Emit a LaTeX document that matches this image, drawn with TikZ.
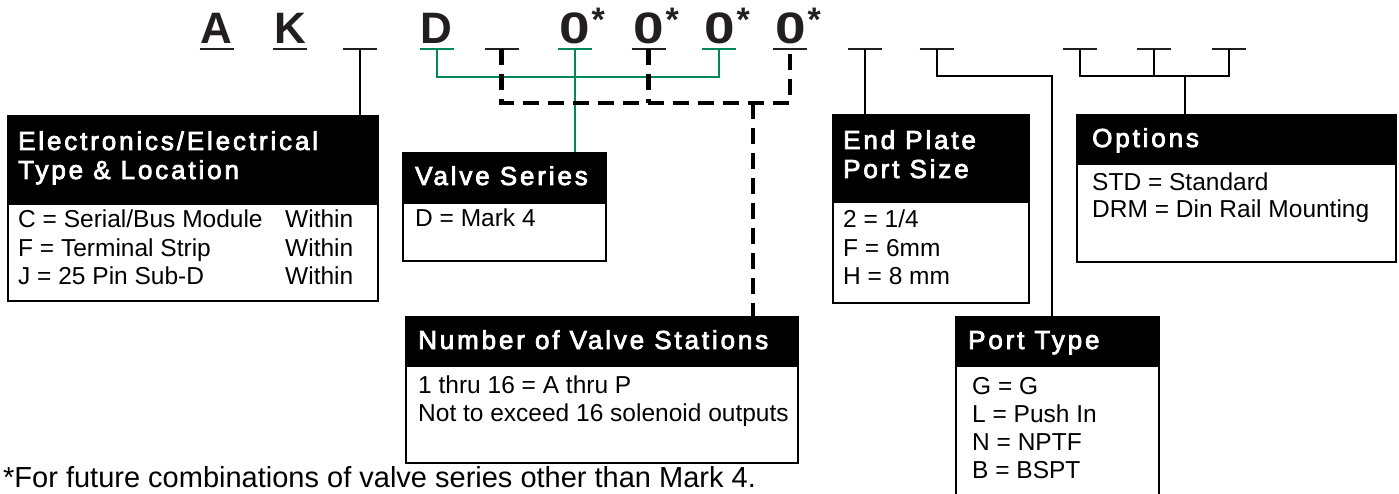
\documentclass[tikz,border=0pt]{standalone}
\usepackage{fontspec}
\setmainfont{Liberation Sans}
\newfontfamily\hdrfont[LetterSpace=11,FakeBold=3]{Liberation Sans}
\definecolor{grn}{RGB}{0,135,90}
\definecolor{ink}{RGB}{35,31,32}
\begin{document}
\begin{tikzpicture}[x=1pt,y=-1pt,
  ulb/.style={line width=2pt, ink},
  ulg/.style={line width=2pt, grn},
  thinln/.style={line width=2pt, black},
  gline/.style={line width=2pt, grn},
  dline/.style={line width=4.5pt, black, dash pattern=on 16pt off 9pt},
  boxbody/.style={draw=black, line width=1.6pt, fill=white, anchor=north west, inner sep=0},
  boxhead/.style={draw=black, fill=black, line width=1.6pt, anchor=north west, inner sep=0},
  htxt/.style={anchor=base west, inner sep=0, text=white, font=\hdrfont\fontsize{26}{28}\selectfont},
  btxt/.style={anchor=base west, inner sep=0, font=\fontsize{24.5}{28}\selectfont},
  letter/.style={anchor=base, inner sep=0, text=ink, font=\bfseries\fontsize{44}{44}\selectfont},
  digit/.style={anchor=base, inner sep=0, text=ink, font=\bfseries\fontsize{44}{44}\selectfont},
  star/.style={anchor=north west, inner sep=0, text=ink, font=\bfseries\fontsize{34}{34}\selectfont},
  foot/.style={anchor=base west, inner sep=0, font=\fontsize{29}{30}\selectfont},
]
\clip (0,0) rectangle (1399,494);
\fill[white] (0,0) rectangle (1399,494);

% slot underline coordinates
\coordinate (u1) at (216.5,49);
\coordinate (u2) at (290,49);
\coordinate (u3) at (360,49);
\coordinate (u4) at (436.5,49);
\coordinate (u5) at (501.5,49);
\coordinate (u6) at (575,49);
\coordinate (u7) at (648.5,49);
\coordinate (u8) at (719,49);
\coordinate (u9) at (790,49);
\coordinate (u10) at (865,49);
\coordinate (u11) at (936.5,49);
\coordinate (u12) at (1080,49);
\coordinate (u13) at (1153.5,49);
\coordinate (u14) at (1228.5,49);

% top letters
\node[letter] (lA) at (216.5,44) {A};
\node[letter] (lK) at (290,44) {K};
\node[letter] (lD) at (436.5,44) {D};
\node[digit] (z1) at (575,44) {\scalebox{1.25}[1]{0}};
\node[digit] (z2) at (649,44) {\scalebox{1.25}[1]{0}};
\node[digit] (z3) at (720,44) {\scalebox{1.25}[1]{0}};
\node[digit] (z4) at (791,44) {\scalebox{1.25}[1]{0}};
\node[star] (s1) at ([xshift=1pt]z1.east |- 0,8) {*};
\node[star] (s2) at ([xshift=1pt]z2.east |- 0,8) {*};
\node[star] (s3) at ([xshift=1pt]z3.east |- 0,8) {*};
\node[star] (s4) at ([xshift=1pt]z4.east |- 0,8) {*};

% underlines
\foreach \u in {u1,u2,u3,u5,u7,u9,u10,u11,u12,u13,u14}
  \draw[ulb] ([xshift=-17pt]\u) -- ([xshift=17pt]\u);
\foreach \u in {u4,u6,u8}
  \draw[ulg] ([xshift=-17pt]\u) -- ([xshift=17pt]\u);

% boxes
\node[boxbody, minimum width=370pt, minimum height=185pt] (b1) at (7,115) {};
\node[boxhead, minimum width=370pt, minimum height=88pt] (h1) at (7,115) {};
\node[boxbody, minimum width=203pt, minimum height=108pt] (b2) at (402,152) {};
\node[boxhead, minimum width=203pt, minimum height=50pt] (h2) at (402,152) {};
\node[boxbody, minimum width=196pt, minimum height=188pt] (b3) at (832,114) {};
\node[boxhead, minimum width=196pt, minimum height=87pt] (h3) at (832,114) {};
\node[boxbody, minimum width=319pt, minimum height=147pt] (b4) at (1076,114) {};
\node[boxhead, minimum width=319pt, minimum height=49pt] (h4) at (1076,114) {};
\node[boxbody, minimum width=392pt, minimum height=146pt] (b5) at (405,316) {};
\node[boxhead, minimum width=392pt, minimum height=49pt] (h5) at (405,316) {};
\node[boxbody, minimum width=203pt, minimum height=190pt] (b6) at (955,316) {};
\node[boxhead, minimum width=203pt, minimum height=49pt] (h6) at (955,316) {};

% junctions
\coordinate (jg) at (576,77);
\coordinate (jd) at (753,103);
\coordinate (jp) at (1052,76);
\coordinate (jo) at (1185,76);

% connectors
\draw[thinln] (u3) -- (u3 |- h1.north);
\draw[gline] (u4) -- (u4 |- jg) -- (u8 |- jg) -- (u8);
\draw[gline] (u6) -- (u6 |- h2.north);
\draw[dline] (u5) -- (u5 |- jd) -- (u9 |- jd) -- (u9);
\draw[dline] (u7) -- (u7 |- jd);
\draw[dline] (jd) -- (jd |- h5.north);
\draw[thinln] (u10) -- (u10 |- h3.north);
\draw[thinln] (u11) -- (u11 |- jp) -- (jp) -- (jp |- h6.north);
\draw[thinln] (u12) -- (u12 |- jo) -- (u14 |- jo) -- (u14);
\draw[thinln] (u13) -- (u13 |- jo);
\draw[thinln] (jo) -- (jo |- h4.north);

% box texts
\node[htxt] (t1a) at (18,150) {Electronics/Electrical};
\node[htxt] (t1b) at (18,179) {Type \& Location};
\node[btxt] (t1c) at (18,228) {C = Serial/Bus Module};
\node[btxt] (t1d) at (18,256) {F = Terminal Strip};
\node[btxt] (t1e) at (18,284) {J = 25 Pin Sub-D};
\node[btxt] (t1f) at (285,228) {Within};
\node[btxt] (t1g) at (285,256) {Within};
\node[btxt] (t1h) at (285,284) {Within};

\node[htxt] (t2a) at (415,185) {Valve Series};
\node[btxt] (t2b) at (415,227) {D = Mark 4};

\node[htxt] (t3a) at (843,149) {End Plate};
\node[htxt] (t3b) at (843,178) {Port Size};
\node[btxt] (t3c) at (843,228) {2 = 1/4};
\node[btxt] (t3d) at (843,256) {F = 6mm};
\node[btxt] (t3e) at (843,284) {H = 8 mm};

\node[htxt] (t4a) at (1092,147) {Options};
\node[btxt] (t4b) at (1092,191) {STD = Standard};
\node[btxt] (t4c) at (1092,218) {DRM = Din Rail Mounting};

\node[htxt] (t5a) at (418,349) {Number of Valve Stations};
\node[btxt] (t5b) at (418,393) {1 thru 16 = A thru P};
\node[btxt] (t5c) at (418,421) {Not to exceed 16 solenoid outputs};

\node[htxt] (t6a) at (968,349) {Port Type};
\node[btxt] (t6b) at (972,394) {G = G};
\node[btxt] (t6c) at (972,422) {L = Push In};
\node[btxt] (t6d) at (972,450) {N = NPTF};
\node[btxt] (t6e) at (972,478) {B = BSPT};

\node[foot] (fn) at (3,487) {*For future combinations of valve series other than Mark 4.};
\end{tikzpicture}
\end{document}
